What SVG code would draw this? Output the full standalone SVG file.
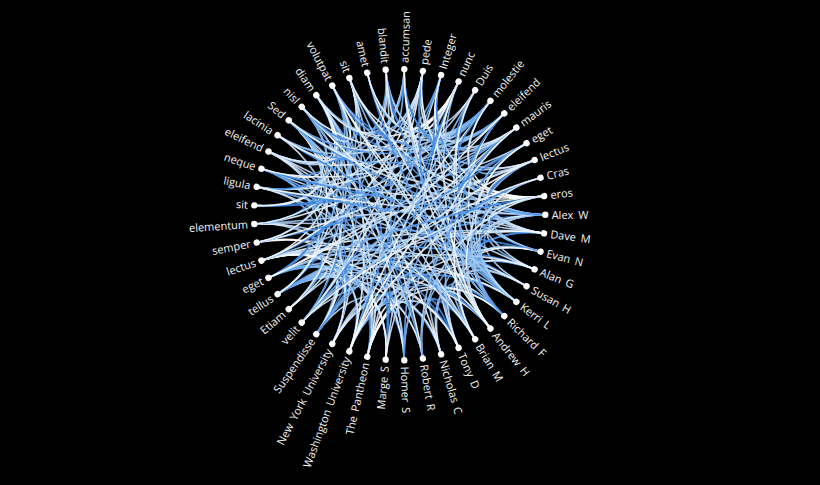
<svg xmlns="http://www.w3.org/2000/svg" xmlns:xlink="http://www.w3.org/1999/xlink" width="820" height="485" viewBox="0 0 820 485">
<style>
.edges{fill:none;stroke-width:1.6;stroke-opacity:0.9}
.a{stroke:url(#g1)}
.b{stroke:url(#g2)}
.c{stroke:url(#g3)}
.node circle{fill:#fff}
.node text{fill:#f4f4f4;font-family:"Open Sans","Noto Sans","Liberation Sans",sans-serif;font-size:11px;word-spacing:2px}
.node text.f{text-anchor:end}
</style>
<defs>
<linearGradient id="g1" x1="0" y1="0" x2="0" y2="1"><stop offset="0" stop-color="#3584e4"/><stop offset="0.45" stop-color="#7fb6f5"/><stop offset="1" stop-color="#ffffff"/></linearGradient>
<linearGradient id="g2" x1="0" y1="0" x2="0" y2="1"><stop offset="0" stop-color="#ffffff"/><stop offset="0.55" stop-color="#9ccaf8"/><stop offset="1" stop-color="#3d8ce8"/></linearGradient>
<linearGradient id="g3" x1="0" y1="0" x2="0" y2="1"><stop offset="0" stop-color="#8fc0f6"/><stop offset="0.4" stop-color="#ffffff"/><stop offset="1" stop-color="#ffffff"/></linearGradient>
<path id="k1" d="M145.65,0C72.83,0 72.23,9.32 144.45,18.63"/>
<path id="k2" d="M145.65,0C72.83,0 70.45,18.47 140.89,36.94"/>
<path id="k3" d="M145.65,0C72.83,0 67.51,27.33 135.01,54.66"/>
<path id="k4" d="M145.65,0C72.83,0 63.46,35.74 126.91,71.48"/>
<path id="k5" d="M145.65,0C72.83,0 58.37,43.56 116.73,87.12"/>
<path id="k6" d="M145.65,0C72.83,0 52.32,50.67 104.63,101.33"/>
<path id="k7" d="M145.65,0C72.83,0 45.41,56.94 90.81,113.87"/>
<path id="k8" d="M145.65,0C72.83,0 37.75,62.28 75.50,124.55"/>
<path id="k9" d="M145.65,0C72.83,0 29.48,66.60 58.95,133.19"/>
<path id="k10" d="M145.65,0C72.83,0 20.72,69.82 41.44,139.63"/>
<path id="k11" d="M145.65,0C72.83,0 11.62,71.89 23.24,143.78"/>
<path id="k12" d="M145.65,0C72.83,0 2.34,72.79 4.67,145.58"/>
<path id="k13" d="M145.65,0C72.83,0 -7.00,72.49 -13.99,144.98"/>
<path id="k14" d="M145.65,0C72.83,0 -16.21,71.00 -32.41,142.00"/>
<path id="k15" d="M145.65,0C72.83,0 -25.15,68.35 -50.30,136.69"/>
<path id="k16" d="M145.65,0C72.83,0 -33.69,64.57 -67.37,129.13"/>
<path id="k17" d="M145.65,0C72.83,0 -41.67,59.73 -83.33,119.46"/>
<path id="k18" d="M145.65,0C72.83,0 -48.96,53.91 -97.92,107.82"/>
<path id="k19" d="M145.65,0C72.83,0 -55.46,47.21 -110.91,94.42"/>
<path id="k20" d="M145.65,0C72.83,0 -61.04,39.73 -122.07,79.46"/>
<path id="k21" d="M145.65,0C72.83,0 -65.62,31.60 -131.23,63.19"/>
<path id="k22" d="M145.65,0C72.83,0 -69.12,22.95 -138.23,45.90"/>
<path id="k23" d="M145.65,0C72.83,0 -71.48,13.92 -142.96,27.84"/>
<path id="k24" d="M145.65,0C72.83,0 -72.68,4.67 -145.35,9.33"/>
</defs>
<rect x="0" y="0" width="820" height="485" fill="#000"/>
<g id="connectors" class="edges" transform="translate(399.65,214.7)">
<g transform="rotate(0)"><use href="#k4" class="a"/><use href="#k8" class="b"/><use href="#k14" class="c"/><use href="#k20" class="a"/><use href="#k3" class="b"/></g>
<g transform="rotate(7.347)"><use href="#k9" class="a"/><use href="#k19" class="b"/><use href="#k21" class="c"/><use href="#k10" class="a"/><use href="#k20" class="b"/></g>
<g transform="rotate(14.694)"><use href="#k14" class="a"/><use href="#k6" class="b"/><use href="#k4" class="c"/><use href="#k22" class="a"/><use href="#k13" class="b"/></g>
<g transform="rotate(22.041)"><use href="#k19" class="a"/><use href="#k17" class="b"/><use href="#k11" class="c"/><use href="#k12" class="a"/><use href="#k6" class="b"/></g>
<g transform="rotate(29.388)"><use href="#k24" class="a"/><use href="#k4" class="b"/><use href="#k18" class="c"/><use href="#k23" class="a"/><use href="#k22" class="b"/></g>
<g transform="rotate(36.735)"><use href="#k5" class="a"/><use href="#k15" class="b"/><use href="#k1" class="c"/><use href="#k13" class="a"/><use href="#k16" class="b"/></g>
<g transform="rotate(44.082)"><use href="#k10" class="a"/><use href="#k2" class="b"/><use href="#k8" class="c"/><use href="#k3" class="a"/><use href="#k9" class="b"/></g>
<g transform="rotate(51.429)"><use href="#k15" class="a"/><use href="#k13" class="b"/><use href="#k16" class="c"/><use href="#k17" class="a"/><use href="#k2" class="b"/></g>
<g transform="rotate(58.776)"><use href="#k20" class="a"/><use href="#k24" class="b"/><use href="#k22" class="c"/><use href="#k4" class="a"/><use href="#k19" class="b"/></g>
<g transform="rotate(66.122)"><use href="#k1" class="a"/><use href="#k11" class="b"/><use href="#k5" class="c"/><use href="#k17" class="a"/><use href="#k12" class="b"/></g>
<g transform="rotate(73.469)"><use href="#k6" class="a"/><use href="#k22" class="b"/><use href="#k12" class="c"/><use href="#k7" class="a"/><use href="#k5" class="b"/></g>
<g transform="rotate(80.816)"><use href="#k11" class="a"/><use href="#k9" class="b"/><use href="#k19" class="c"/><use href="#k20" class="a"/><use href="#k22" class="b"/></g>
<g transform="rotate(88.163)"><use href="#k16" class="a"/><use href="#k20" class="b"/><use href="#k2" class="c"/><use href="#k8" class="a"/><use href="#k15" class="b"/></g>
<g transform="rotate(95.510)"><use href="#k21" class="a"/><use href="#k7" class="b"/><use href="#k9" class="c"/><use href="#k23" class="a"/><use href="#k8" class="b"/></g>
<g transform="rotate(102.857)"><use href="#k2" class="a"/><use href="#k18" class="b"/><use href="#k16" class="c"/><use href="#k10" class="a"/><use href="#k1" class="b"/></g>
<g transform="rotate(110.204)"><use href="#k7" class="a"/><use href="#k5" class="b"/><use href="#k23" class="c"/><use href="#k24" class="a"/><use href="#k18" class="b"/></g>
<g transform="rotate(117.551)"><use href="#k12" class="a"/><use href="#k16" class="b"/><use href="#k6" class="c"/><use href="#k13" class="a"/><use href="#k11" class="b"/></g>
<g transform="rotate(124.898)"><use href="#k17" class="a"/><use href="#k3" class="b"/><use href="#k13" class="c"/><use href="#k1" class="a"/><use href="#k4" class="b"/></g>
<g transform="rotate(132.245)"><use href="#k22" class="a"/><use href="#k14" class="b"/><use href="#k20" class="c"/><use href="#k15" class="a"/><use href="#k21" class="b"/></g>
<g transform="rotate(139.592)"><use href="#k3" class="a"/><use href="#k1" class="b"/><use href="#k4" class="c"/><use href="#k5" class="a"/><use href="#k14" class="b"/></g>
<g transform="rotate(146.939)"><use href="#k8" class="a"/><use href="#k12" class="b"/><use href="#k10" class="c"/><use href="#k16" class="a"/><use href="#k7" class="b"/></g>
<g transform="rotate(154.286)"><use href="#k13" class="a"/><use href="#k23" class="b"/><use href="#k17" class="c"/><use href="#k5" class="a"/><use href="#k24" class="b"/></g>
<g transform="rotate(161.633)"><use href="#k18" class="a"/><use href="#k10" class="b"/><use href="#k24" class="c"/><use href="#k19" class="a"/><use href="#k17" class="b"/></g>
<g transform="rotate(168.980)"><use href="#k23" class="a"/><use href="#k21" class="b"/><use href="#k7" class="c"/><use href="#k8" class="a"/><use href="#k10" class="b"/></g>
<g transform="rotate(176.327)"><use href="#k14" class="a"/><use href="#k18" class="b"/><use href="#k24" class="c"/><use href="#k6" class="a"/><use href="#k13" class="b"/></g>
<g transform="rotate(183.673)"><use href="#k19" class="a"/><use href="#k5" class="b"/><use href="#k7" class="c"/><use href="#k20" class="a"/><use href="#k6" class="b"/></g>
<g transform="rotate(191.020)"><use href="#k24" class="a"/><use href="#k16" class="b"/><use href="#k14" class="c"/><use href="#k8" class="a"/><use href="#k23" class="b"/></g>
<g transform="rotate(198.367)"><use href="#k5" class="a"/><use href="#k3" class="b"/><use href="#k21" class="c"/><use href="#k22" class="a"/><use href="#k16" class="b"/></g>
<g transform="rotate(205.714)"><use href="#k10" class="a"/><use href="#k14" class="b"/><use href="#k4" class="c"/><use href="#k9" class="a"/><use href="#k8" class="b"/></g>
<g transform="rotate(213.061)"><use href="#k15" class="a"/><use href="#k1" class="b"/><use href="#k11" class="c"/><use href="#k23" class="a"/><use href="#k2" class="b"/></g>
<g transform="rotate(220.408)"><use href="#k20" class="a"/><use href="#k12" class="b"/><use href="#k18" class="c"/><use href="#k13" class="a"/><use href="#k19" class="b"/></g>
<g transform="rotate(227.755)"><use href="#k1" class="a"/><use href="#k23" class="b"/><use href="#k2" class="c"/><use href="#k3" class="a"/><use href="#k12" class="b"/></g>
<g transform="rotate(235.102)"><use href="#k6" class="a"/><use href="#k10" class="b"/><use href="#k8" class="c"/><use href="#k14" class="a"/><use href="#k5" class="b"/></g>
<g transform="rotate(242.449)"><use href="#k11" class="a"/><use href="#k21" class="b"/><use href="#k15" class="c"/><use href="#k3" class="a"/><use href="#k22" class="b"/></g>
<g transform="rotate(249.796)"><use href="#k16" class="a"/><use href="#k8" class="b"/><use href="#k22" class="c"/><use href="#k17" class="a"/><use href="#k15" class="b"/></g>
<g transform="rotate(257.143)"><use href="#k21" class="a"/><use href="#k19" class="b"/><use href="#k5" class="c"/><use href="#k6" class="a"/><use href="#k8" class="b"/></g>
<g transform="rotate(264.490)"><use href="#k2" class="a"/><use href="#k6" class="b"/><use href="#k12" class="c"/><use href="#k18" class="a"/><use href="#k1" class="b"/></g>
<g transform="rotate(271.837)"><use href="#k7" class="a"/><use href="#k17" class="b"/><use href="#k19" class="c"/><use href="#k9" class="a"/><use href="#k18" class="b"/></g>
<g transform="rotate(279.184)"><use href="#k12" class="a"/><use href="#k4" class="b"/><use href="#k2" class="c"/><use href="#k20" class="a"/><use href="#k11" class="b"/></g>
<g transform="rotate(286.531)"><use href="#k17" class="a"/><use href="#k15" class="b"/><use href="#k9" class="c"/><use href="#k10" class="a"/><use href="#k4" class="b"/></g>
<g transform="rotate(293.878)"><use href="#k22" class="a"/><use href="#k2" class="b"/><use href="#k16" class="c"/><use href="#k23" class="a"/><use href="#k21" class="b"/></g>
<g transform="rotate(301.224)"><use href="#k3" class="a"/><use href="#k13" class="b"/><use href="#k23" class="c"/><use href="#k11" class="a"/><use href="#k14" class="b"/></g>
<g transform="rotate(308.571)"><use href="#k8" class="a"/><use href="#k24" class="b"/><use href="#k6" class="c"/><use href="#k1" class="a"/><use href="#k7" class="b"/></g>
<g transform="rotate(315.918)"><use href="#k13" class="a"/><use href="#k11" class="b"/><use href="#k14" class="c"/><use href="#k15" class="a"/><use href="#k24" class="b"/></g>
<g transform="rotate(323.265)"><use href="#k18" class="a"/><use href="#k22" class="b"/><use href="#k20" class="c"/><use href="#k2" class="a"/><use href="#k17" class="b"/></g>
<g transform="rotate(330.612)"><use href="#k23" class="a"/><use href="#k9" class="b"/><use href="#k3" class="c"/><use href="#k15" class="a"/><use href="#k10" class="b"/></g>
<g transform="rotate(337.959)"><use href="#k4" class="a"/><use href="#k20" class="b"/><use href="#k10" class="c"/><use href="#k5" class="a"/><use href="#k3" class="b"/></g>
<g transform="rotate(345.306)"><use href="#k9" class="a"/><use href="#k7" class="b"/><use href="#k17" class="c"/><use href="#k18" class="a"/><use href="#k20" class="b"/></g>
<g transform="rotate(352.653)"><use href="#k6" class="a"/><use href="#k12" class="b"/><use href="#k19" class="c"/><use href="#k22" class="a"/><use href="#k3" class="b"/></g>
</g>
<g id="nodes" transform="translate(399.65,214.7)">
<g id="n0" class="node" transform="rotate(0)"><circle cx="145.65" cy="0" r="3.2"/><text x="152" dy=".35em">Alex W</text></g>
<g id="n1" class="node" transform="rotate(7.347)"><circle cx="145.65" cy="0" r="3.2"/><text x="152" dy=".35em">Dave M</text></g>
<g id="n2" class="node" transform="rotate(14.694)"><circle cx="145.65" cy="0" r="3.2"/><text x="152" dy=".35em">Evan N</text></g>
<g id="n3" class="node" transform="rotate(22.041)"><circle cx="145.65" cy="0" r="3.2"/><text x="152" dy=".35em">Alan G</text></g>
<g id="n4" class="node" transform="rotate(29.388)"><circle cx="145.65" cy="0" r="3.2"/><text x="152" dy=".35em">Susan H</text></g>
<g id="n5" class="node" transform="rotate(36.735)"><circle cx="145.65" cy="0" r="3.2"/><text x="152" dy=".35em">Kerri L</text></g>
<g id="n6" class="node" transform="rotate(44.082)"><circle cx="145.65" cy="0" r="3.2"/><text x="152" dy=".35em">Richard F</text></g>
<g id="n7" class="node" transform="rotate(51.429)"><circle cx="145.65" cy="0" r="3.2"/><text x="152" dy=".35em">Andrew H</text></g>
<g id="n8" class="node" transform="rotate(58.776)"><circle cx="145.65" cy="0" r="3.2"/><text x="152" dy=".35em">Brian M</text></g>
<g id="n9" class="node" transform="rotate(66.122)"><circle cx="145.65" cy="0" r="3.2"/><text x="152" dy=".35em">Tony D</text></g>
<g id="n10" class="node" transform="rotate(73.469)"><circle cx="145.65" cy="0" r="3.2"/><text x="152" dy=".35em">Nicholas C</text></g>
<g id="n11" class="node" transform="rotate(80.816)"><circle cx="145.65" cy="0" r="3.2"/><text x="152" dy=".35em">Robert R</text></g>
<g id="n12" class="node" transform="rotate(88.163)"><circle cx="145.65" cy="0" r="3.2"/><text x="152" dy=".35em">Homer S</text></g>
<g id="n13" class="node" transform="rotate(95.510)"><circle cx="145.65" cy="0" r="3.2"/><text class="f" x="-152" dy=".35em" transform="rotate(180)">Marge S</text></g>
<g id="n14" class="node" transform="rotate(102.857)"><circle cx="145.65" cy="0" r="3.2"/><text class="f" x="-152" dy=".35em" transform="rotate(180)">The Pantheon</text></g>
<g id="n15" class="node" transform="rotate(110.204)"><circle cx="145.65" cy="0" r="3.2"/><text class="f" x="-152" dy=".35em" transform="rotate(180)">Washington University</text></g>
<g id="n16" class="node" transform="rotate(117.551)"><circle cx="145.65" cy="0" r="3.2"/><text class="f" x="-152" dy=".35em" transform="rotate(180)">New York University</text></g>
<g id="n17" class="node" transform="rotate(124.898)"><circle cx="145.65" cy="0" r="3.2"/><text class="f" x="-152" dy=".35em" transform="rotate(180)">Suspendisse</text></g>
<g id="n18" class="node" transform="rotate(132.245)"><circle cx="145.65" cy="0" r="3.2"/><text class="f" x="-152" dy=".35em" transform="rotate(180)">velit</text></g>
<g id="n19" class="node" transform="rotate(139.592)"><circle cx="145.65" cy="0" r="3.2"/><text class="f" x="-152" dy=".35em" transform="rotate(180)">Etiam</text></g>
<g id="n20" class="node" transform="rotate(146.939)"><circle cx="145.65" cy="0" r="3.2"/><text class="f" x="-152" dy=".35em" transform="rotate(180)">tellus</text></g>
<g id="n21" class="node" transform="rotate(154.286)"><circle cx="145.65" cy="0" r="3.2"/><text class="f" x="-152" dy=".35em" transform="rotate(180)">eget</text></g>
<g id="n22" class="node" transform="rotate(161.633)"><circle cx="145.65" cy="0" r="3.2"/><text class="f" x="-152" dy=".35em" transform="rotate(180)">lectus</text></g>
<g id="n23" class="node" transform="rotate(168.980)"><circle cx="145.65" cy="0" r="3.2"/><text class="f" x="-152" dy=".35em" transform="rotate(180)">semper</text></g>
<g id="n24" class="node" transform="rotate(176.327)"><circle cx="145.65" cy="0" r="3.2"/><text class="f" x="-152" dy=".35em" transform="rotate(180)">elementum</text></g>
<g id="n25" class="node" transform="rotate(183.673)"><circle cx="145.65" cy="0" r="3.2"/><text class="f" x="-152" dy=".35em" transform="rotate(180)">sit</text></g>
<g id="n26" class="node" transform="rotate(191.020)"><circle cx="145.65" cy="0" r="3.2"/><text class="f" x="-152" dy=".35em" transform="rotate(180)">ligula</text></g>
<g id="n27" class="node" transform="rotate(198.367)"><circle cx="145.65" cy="0" r="3.2"/><text class="f" x="-152" dy=".35em" transform="rotate(180)">neque</text></g>
<g id="n28" class="node" transform="rotate(205.714)"><circle cx="145.65" cy="0" r="3.2"/><text class="f" x="-152" dy=".35em" transform="rotate(180)">eleifend</text></g>
<g id="n29" class="node" transform="rotate(213.061)"><circle cx="145.65" cy="0" r="3.2"/><text class="f" x="-152" dy=".35em" transform="rotate(180)">lacinia</text></g>
<g id="n30" class="node" transform="rotate(220.408)"><circle cx="145.65" cy="0" r="3.2"/><text class="f" x="-152" dy=".35em" transform="rotate(180)">Sed</text></g>
<g id="n31" class="node" transform="rotate(227.755)"><circle cx="145.65" cy="0" r="3.2"/><text class="f" x="-152" dy=".35em" transform="rotate(180)">nisl</text></g>
<g id="n32" class="node" transform="rotate(235.102)"><circle cx="145.65" cy="0" r="3.2"/><text class="f" x="-152" dy=".35em" transform="rotate(180)">diam</text></g>
<g id="n33" class="node" transform="rotate(242.449)"><circle cx="145.65" cy="0" r="3.2"/><text class="f" x="-152" dy=".35em" transform="rotate(180)">volutpat</text></g>
<g id="n34" class="node" transform="rotate(249.796)"><circle cx="145.65" cy="0" r="3.2"/><text class="f" x="-152" dy=".35em" transform="rotate(180)">sit</text></g>
<g id="n35" class="node" transform="rotate(257.143)"><circle cx="145.65" cy="0" r="3.2"/><text class="f" x="-152" dy=".35em" transform="rotate(180)">amet</text></g>
<g id="n36" class="node" transform="rotate(264.490)"><circle cx="145.65" cy="0" r="3.2"/><text class="f" x="-152" dy=".35em" transform="rotate(180)">blandit</text></g>
<g id="n37" class="node" transform="rotate(271.837)"><circle cx="145.65" cy="0" r="3.2"/><text x="152" dy=".35em">accumsan</text></g>
<g id="n38" class="node" transform="rotate(279.184)"><circle cx="145.65" cy="0" r="3.2"/><text x="152" dy=".35em">pede</text></g>
<g id="n39" class="node" transform="rotate(286.531)"><circle cx="145.65" cy="0" r="3.2"/><text x="152" dy=".35em">Integer</text></g>
<g id="n40" class="node" transform="rotate(293.878)"><circle cx="145.65" cy="0" r="3.2"/><text x="152" dy=".35em">nunc</text></g>
<g id="n41" class="node" transform="rotate(301.224)"><circle cx="145.65" cy="0" r="3.2"/><text x="152" dy=".35em">Duis</text></g>
<g id="n42" class="node" transform="rotate(308.571)"><circle cx="145.65" cy="0" r="3.2"/><text x="152" dy=".35em">molestie</text></g>
<g id="n43" class="node" transform="rotate(315.918)"><circle cx="145.65" cy="0" r="3.2"/><text x="152" dy=".35em">eleifend</text></g>
<g id="n44" class="node" transform="rotate(323.265)"><circle cx="145.65" cy="0" r="3.2"/><text x="152" dy=".35em">mauris</text></g>
<g id="n45" class="node" transform="rotate(330.612)"><circle cx="145.65" cy="0" r="3.2"/><text x="152" dy=".35em">eget</text></g>
<g id="n46" class="node" transform="rotate(337.959)"><circle cx="145.65" cy="0" r="3.2"/><text x="152" dy=".35em">lectus</text></g>
<g id="n47" class="node" transform="rotate(345.306)"><circle cx="145.65" cy="0" r="3.2"/><text x="152" dy=".35em">Cras</text></g>
<g id="n48" class="node" transform="rotate(352.653)"><circle cx="145.65" cy="0" r="3.2"/><text x="152" dy=".35em">eros</text></g>
</g>
</svg>
